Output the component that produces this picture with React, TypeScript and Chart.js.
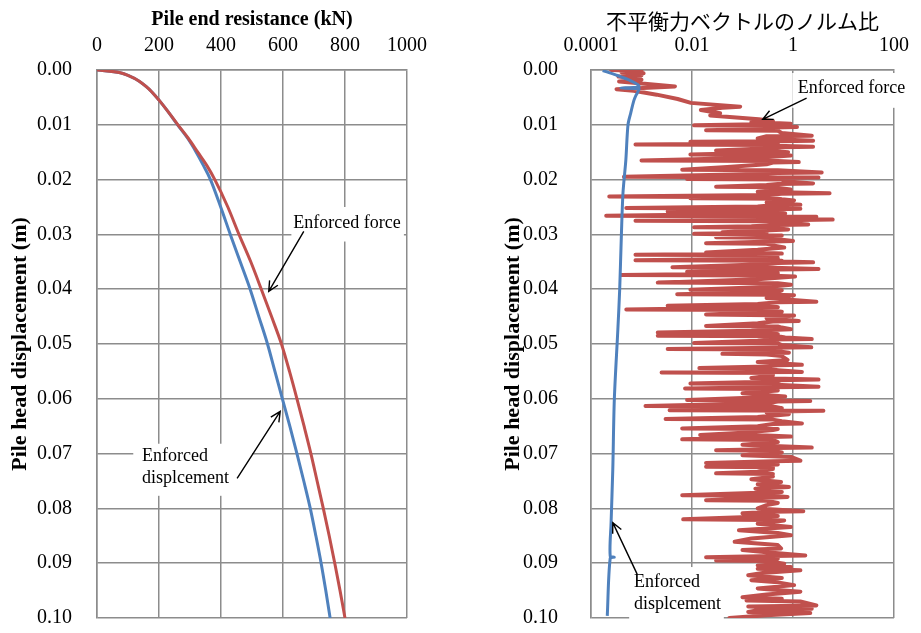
import { useEffect, useRef } from "react";
import { Chart, registerables } from "chart.js";

Chart.register(...registerables);

const SERIF = "'Liberation Serif', 'Times New Roman', serif";
const CJK = "'Noto Sans CJK JP', 'Noto Sans CJK SC', sans-serif";
const RED = "#C0504D";
const BLUE = "#4F81BD";
const GRID = "#8c8c8c";

// ---- Left panel: pile head displacement (m) vs pile end resistance (kN) ----
const headDisp = [
  0, 0.0005, 0.001, 0.002, 0.003, 0.004, 0.0055, 0.0075, 0.01, 0.0125, 0.015,
  0.0175, 0.02, 0.025, 0.03, 0.035, 0.04, 0.045, 0.05, 0.055, 0.06, 0.065, 0.07,
  0.075, 0.08, 0.085, 0.09, 0.095, 0.1,
];
const resistanceForceCtrl = [
  0, 75, 100, 135, 158, 177, 200, 228, 261, 295, 325, 355, 380, 422, 458, 496,
  530, 563, 595, 621, 645, 668, 690, 710, 730, 749, 767, 784, 800,
];
const resistanceDispCtrl = [
  0, 75, 100, 135, 158, 177, 200, 228, 260, 293, 320, 344, 366, 399, 430, 462,
  494, 522, 550, 574, 598, 622, 645, 667, 688, 706, 723, 738, 752,
];

const resistanceTicks = [0, 200, 400, 600, 800, 1000];
const dispTicks = [0, 0.01, 0.02, 0.03, 0.04, 0.05, 0.06, 0.07, 0.08, 0.09, 0.1];

// ---- Right panel: unbalanced force vector norm ratio (log scale) ----
const ratioTicks = [0.0001, 0.01, 1, 100];
const ratioTickLabels = ["0.0001", "0.01", "1", "100"];

// Enforced force run: [displacement (m), norm ratio]
const forceRun0to1cm: [number, number][] = [
  [0, 0.00025], [0.0002, 0.001], [0.0004, 0.0004], [0.0006, 0.0011], [0.0008, 0.0005],
  [0.001, 0.001], [0.0012, 0.00035], [0.0014, 0.0009], [0.0016, 0.0005], [0.0018, 0.001],
  [0.0021, 0.00036], [0.0024, 0.0009], [0.003, 0.0046], [0.0035, 0.00032], [0.0038, 0.0007],
  [0.0045, 0.002], [0.0053, 0.0052], [0.006, 0.0095], [0.0067, 0.09], [0.0069, 0.04],
  [0.0073, 0.015], [0.0079, 0.036], [0.0083, 0.023], [0.009, 0.21], [0.0093, 0.4],
  [0.0095, 0.15], [0.0098, 0.9],
];
const forceRun1to2cm: [number, number][] = [
  [0.0101, 0.011], [0.0102, 0.3], [0.0104, 1.2], [0.0105, 0.4], [0.0107, 0.5],
  [0.011, 0.019], [0.0111, 0.5], [0.0115, 0.6], [0.012, 2.35], [0.0121, 0.3],
  [0.0125, 0.2], [0.0129, 2.5], [0.013, 0.5], [0.0131, 0.0093], [0.0132, 0.3],
  [0.0134, 0.5], [0.0136, 0.00076], [0.0137, 0.4], [0.0138, 0.3], [0.014, 2.5],
  [0.0141, 0.6], [0.0144, 0.15], [0.0147, 0.03], [0.0148, 0.4], [0.015, 0.8],
  [0.0154, 0.0093], [0.0155, 0.3], [0.0156, 0.91], [0.016, 0.2], [0.0165, 0.001],
  [0.0166, 0.5], [0.0168, 1.3], [0.0169, 0.4], [0.0172, 0.3], [0.0177, 0.05],
  [0.0182, 0.0064], [0.0183, 0.5], [0.0187, 3.7], [0.0188, 0.5], [0.019, 0.2],
  [0.0195, 0.00045], [0.0196, 3.2], [0.0197, 0.4], [0.0199, 0.008], [0.02, 0.6],
];
const forceRun2to3cm: [number, number][] = [
  [0.0203, 0.7], [0.0207, 2.5], [0.0208, 0.5], [0.021, 0.3], [0.0213, 0.03],
  [0.0214, 0.4], [0.0218, 0.9], [0.0222, 0.2], [0.0225, 5.3], [0.0226, 0.6],
  [0.0228, 0.3], [0.0231, 0.00023], [0.0232, 0.2], [0.0234, 0.0093], [0.0235, 0.5],
  [0.0236, 0.6], [0.0238, 1.05], [0.0242, 0.3], [0.0246, 1.4], [0.0247, 0.4],
  [0.0249, 0.2], [0.0252, 0.0005], [0.0253, 1.4], [0.0254, 0.5], [0.0256, 0.3],
  [0.0258, 0.0033], [0.0259, 0.4], [0.0262, 0.7], [0.0266, 0.0002], [0.0268, 2.9],
  [0.0269, 0.6], [0.0271, 0.3], [0.0273, 6.1], [0.0274, 0.7], [0.0275, 0.00076],
  [0.0276, 0.3], [0.0278, 0.5], [0.0282, 2.0], [0.0283, 0.5], [0.0285, 0.15],
  [0.0287, 0.011], [0.0288, 0.4], [0.0291, 0.8], [0.0296, 0.04], [0.0297, 0.3],
  [0.0299, 0.011],
];
const forceRun3to4cm: [number, number][] = [
  [0.0302, 0.6], [0.0305, 0.03], [0.0306, 0.4], [0.0309, 0.5], [0.0312, 1.0],
  [0.0316, 0.019], [0.0317, 0.3], [0.032, 0.4], [0.0324, 0.67], [0.0328, 0.2],
  [0.0333, 0.019], [0.0334, 0.3], [0.0335, 0.6], [0.0337, 0.00076], [0.0338, 0.5],
  [0.034, 0.3], [0.0344, 0.5], [0.0347, 0.00076], [0.0348, 0.6], [0.0349, 0.4],
  [0.0351, 2.5], [0.0352, 0.5], [0.0355, 0.2], [0.036, 0.0041], [0.0361, 0.4],
  [0.0363, 3.2], [0.0364, 0.5], [0.0366, 0.2], [0.0368, 0.008], [0.0369, 0.4],
  [0.0371, 0.5], [0.0374, 0.0004], [0.0375, 0.3], [0.0377, 1.1], [0.0382, 0.2],
  [0.0388, 0.0021], [0.0389, 0.5], [0.0392, 0.91], [0.0396, 0.3], [0.0401, 0.0093],
  [0.0402, 0.6],
];
const forceRun4to5cm: [number, number][] = [
  [0.0405, 0.5], [0.0409, 0.0051], [0.041, 0.4], [0.0411, 1.05], [0.0416, 0.3],
  [0.0423, 2.9], [0.0424, 0.5], [0.0427, 0.2], [0.043, 0.0033], [0.0431, 0.4],
  [0.0433, 0.5], [0.0437, 0.0005], [0.0438, 0.3], [0.0441, 0.6], [0.0446, 0.019],
  [0.0448, 1.05], [0.0453, 0.3], [0.0458, 1.3], [0.0459, 0.4], [0.0462, 0.2],
  [0.0467, 0.019], [0.0468, 0.5], [0.047, 0.6], [0.0473, 0.91], [0.0476, 0.15],
  [0.0479, 0.0021], [0.048, 0.4], [0.0482, 0.5], [0.0485, 0.0021], [0.0486, 0.5],
  [0.0488, 0.7], [0.0491, 2.35], [0.0492, 0.4], [0.0494, 0.2], [0.0498, 0.011],
  [0.0499, 0.5],
];
const forceRun5to6cm: [number, number][] = [
  [0.0502, 0.6], [0.0506, 2.3], [0.0507, 0.4], [0.0509, 0.0033], [0.051, 0.5],
  [0.0513, 0.5], [0.0516, 0.83], [0.0518, 0.04], [0.0519, 0.3], [0.0522, 0.6],
  [0.0529, 0.78], [0.0533, 0.2], [0.0538, 1.5], [0.0539, 0.5], [0.0541, 0.3],
  [0.0544, 0.014], [0.0545, 0.4], [0.0548, 0.5], [0.0551, 1.5], [0.0552, 0.0025],
  [0.0553, 0.4], [0.0557, 0.4], [0.0562, 0.15], [0.0565, 3.2], [0.0566, 0.5],
  [0.0569, 0.3], [0.0572, 0.0093], [0.0573, 0.5], [0.0575, 0.6], [0.0578, 3.2],
  [0.0579, 0.4], [0.0581, 0.0073], [0.0582, 0.3], [0.0585, 0.5], [0.059, 0.1],
  [0.0596, 0.7], [0.0602, 0.008], [0.0603, 0.4],
];
const forceRun6to7cm: [number, number][] = [
  [0.0604, 2.2], [0.0605, 0.5], [0.0608, 0.3], [0.0613, 0.0012], [0.0614, 0.4],
  [0.0617, 0.6], [0.0621, 0.0036], [0.0622, 4.0], [0.0623, 0.5], [0.0625, 0.3],
  [0.0628, 0.83], [0.0633, 0.2], [0.0637, 0.003], [0.0638, 0.4], [0.0641, 0.6],
  [0.0645, 1.5], [0.0646, 0.4], [0.065, 0.2], [0.0654, 0.0064], [0.0655, 0.5],
  [0.0657, 0.4], [0.0662, 0.1], [0.0666, 0.0145], [0.0667, 0.3], [0.0669, 0.91],
  [0.0674, 0.0064], [0.0675, 0.4], [0.0679, 0.5], [0.0684, 0.1], [0.0689, 2.35],
  [0.069, 0.5], [0.0692, 0.3], [0.0694, 0.03], [0.0695, 0.4], [0.0698, 0.6],
];
const forceRun7to8cm: [number, number][] = [
  [0.0703, 0.1], [0.0706, 0.91], [0.0713, 1.4], [0.0714, 0.4], [0.0717, 0.019],
  [0.0718, 0.3], [0.072, 0.5], [0.0724, 0.019], [0.0725, 0.4], [0.0728, 0.4],
  [0.0733, 0.2], [0.0736, 0.03], [0.0737, 0.4], [0.0739, 0.3], [0.0742, 0.4],
  [0.0747, 0.15], [0.0752, 0.58], [0.0756, 0.2], [0.0761, 0.83], [0.0764, 0.18],
  [0.077, 0.6], [0.0776, 0.0064], [0.0777, 0.4], [0.0779, 0.78], [0.0785, 0.019],
  [0.0786, 0.3], [0.079, 0.5], [0.0794, 0.3],
];
const forceRun8to10cm: [number, number][] = [
  [0.08, 0.2], [0.0805, 1.6], [0.0806, 0.4], [0.0809, 0.1], [0.0814, 0.5],
  [0.082, 0.0067], [0.0821, 0.3], [0.0822, 0.67], [0.0828, 0.2], [0.0834, 0.91],
  [0.084, 0.085], [0.0845, 0.5], [0.0849, 0.91], [0.0855, 0.15], [0.0861, 0.07],
  [0.0867, 0.5], [0.0873, 0.58], [0.0876, 0.1], [0.088, 0.3], [0.0886, 1.75],
  [0.0887, 0.4], [0.0889, 0.019], [0.089, 0.3], [0.0892, 0.5], [0.0895, 0.03],
  [0.0896, 0.3], [0.0901, 0.67], [0.0904, 0.2], [0.0907, 0.91], [0.091, 0.2],
  [0.0913, 1.4], [0.0918, 0.25], [0.0922, 0.13], [0.0927, 0.6], [0.0931, 0.15],
  [0.0935, 0.5], [0.094, 1.05], [0.0946, 0.2], [0.0952, 1.4], [0.0957, 0.3],
  [0.0962, 0.1], [0.0965, 0.6], [0.0968, 0.12], [0.097, 1.4], [0.0977, 2.9],
  [0.0979, 0.13], [0.0983, 2.35], [0.0986, 0.2], [0.0989, 0.13], [0.0991, 2.2],
  [0.0995, 0.3], [0.1, 0.055],
];

// Enforced displacement run
const dispRunDisp = [
  0.0001, 0.0009, 0.0018, 0.0027, 0.0031, 0.0033, 0.0034, 0.0037, 0.0045, 0.0055,
  0.0079, 0.01, 0.0164, 0.0224, 0.03, 0.04, 0.0474, 0.06, 0.0729, 0.0826,
  0.0887, 0.0889, 0.0891, 0.0996,
];
const dispRunRatio = [
  0.00017, 0.00031, 0.00056, 0.00085, 0.00089, 0.00039, 0.00089, 0.00088, 0.00079, 0.00071,
  0.00061, 0.00054, 0.00049, 0.00043, 0.0004, 0.00037, 0.00034, 0.00029, 0.00027, 0.00025,
  0.00024, 0.00029, 0.00024, 0.00021,
];

type Pt = { x: number; y: number };
const zipXY = (xs: number[], ys: number[]): Pt[] => {
  const n = Math.min(xs.length, ys.length);
  const out: Pt[] = [];
  for (let i = 0; i < n; i++) out.push({ x: xs[i], y: ys[i] });
  return out;
};
const traceToXY = (...parts: [number, number][][]): Pt[] =>
  parts.flat().map(([d, r]) => ({ x: r, y: d }));

// Callout: white label box, text lines and an open-headed arrow, in data units
type Note = {
  lines: string[];
  at: [number, number];
  box: [number, number, number, number];
  from: [number, number];
  to: [number, number];
};

const makeNotes = (notes: Note[]) => ({
  id: "callouts",
  afterDraw(chart: any) {
    const { ctx, scales } = chart;
    const sx = scales.x;
    const sy = scales.y;
    ctx.save();
    for (const n of notes) {
      const bx0 = sx.getPixelForValue(n.box[0]);
      const by0 = sy.getPixelForValue(n.box[1]);
      const bx1 = sx.getPixelForValue(n.box[2]);
      const by1 = sy.getPixelForValue(n.box[3]);
      ctx.fillStyle = "#ffffff";
      ctx.fillRect(Math.min(bx0, bx1), Math.min(by0, by1), Math.abs(bx1 - bx0), Math.abs(by1 - by0));

      ctx.fillStyle = "#000000";
      ctx.font = `18px ${SERIF}`;
      ctx.textAlign = "left";
      ctx.textBaseline = "middle";
      const tx = sx.getPixelForValue(n.at[0]);
      const ty = sy.getPixelForValue(n.at[1]);
      n.lines.forEach((line, i) => ctx.fillText(line, tx, ty + i * 22));

      const x0 = sx.getPixelForValue(n.from[0]);
      const y0 = sy.getPixelForValue(n.from[1]);
      const x1 = sx.getPixelForValue(n.to[0]);
      const y1 = sy.getPixelForValue(n.to[1]);
      ctx.strokeStyle = "#000000";
      ctx.lineWidth = 1.4;
      ctx.beginPath();
      ctx.moveTo(x0, y0);
      ctx.lineTo(x1, y1);
      const ang = Math.atan2(y1 - y0, x1 - x0);
      const head = 11;
      const spread = 0.45;
      ctx.moveTo(x1 - head * Math.cos(ang - spread), y1 - head * Math.sin(ang - spread));
      ctx.lineTo(x1, y1);
      ctx.lineTo(x1 - head * Math.cos(ang + spread), y1 - head * Math.sin(ang + spread));
      ctx.stroke();
    }
    ctx.restore();
  },
});

const leftNotes: Note[] = [
  {
    lines: ["Enforced force"],
    at: [633, 0.0279],
    box: [627, 0.025, 990, 0.0313],
    from: [667, 0.02945],
    to: [554, 0.0404],
  },
  {
    lines: ["Enforced", "displcement"],
    at: [145, 0.0704],
    box: [117, 0.0682, 500, 0.0777],
    from: [452, 0.0745],
    to: [591, 0.0623],
  },
];

const rightNotes: Note[] = [
  {
    lines: ["Enforced force"],
    at: [1.245, 0.00328],
    box: [0.966, 0.00055, 186, 0.0069],
    from: [1.86, 0.00515],
    to: [0.251, 0.009],
  },
  {
    lines: ["Enforced", "displcement"],
    at: [0.00071, 0.0934],
    box: [0.00057, 0.0907, 0.0427, 0.1006],
    from: [0.00082, 0.092],
    to: [0.00027, 0.0826],
  },
];

const gridOpts = { color: GRID, lineWidth: 1.5, drawTicks: false };
const borderOpts = { color: GRID, width: 1.5 };

const dispAxis = (plotLeft: number, titlePad: number, tickPad: number) => ({
  type: "linear" as const,
  position: "left" as const,
  reverse: true,
  min: 0,
  max: 0.1,
  afterBuildTicks: (s: any) => {
    s.ticks = dispTicks.map((v) => ({ value: v }));
  },
  afterFit: (s: any) => {
    s.width = plotLeft;
    s.paddingTop = 0;
    s.paddingBottom = 0;
  },
  grid: gridOpts,
  border: borderOpts,
  ticks: {
    padding: tickPad,
    color: "#000",
    font: { family: SERIF, size: 20 },
    callback: (v: any) => Number(v).toFixed(2),
  },
  title: {
    display: true,
    text: "Pile head displacement (m)",
    color: "#000",
    font: { family: SERIF, size: 22, weight: "bold" as const },
    padding: { top: titlePad, bottom: 0 },
  },
});

export default function App() {
  const leftRef = useRef<HTMLCanvasElement>(null);
  const rightRef = useRef<HTMLCanvasElement>(null);

  useEffect(() => {
    if (!leftRef.current || !rightRef.current) return;

    const left = new Chart(leftRef.current, {
      type: "scatter",
      data: {
        datasets: [
          {
            label: "Enforced force",
            data: zipXY(resistanceForceCtrl, headDisp),
            showLine: true,
            borderColor: RED,
            backgroundColor: RED,
            borderWidth: 3,
            pointRadius: 0,
            cubicInterpolationMode: "monotone",
          },
          {
            label: "Enforced displcement",
            data: zipXY(resistanceDispCtrl, headDisp),
            showLine: true,
            borderColor: BLUE,
            backgroundColor: BLUE,
            borderWidth: 3,
            pointRadius: 0,
            cubicInterpolationMode: "monotone",
          },
        ],
      },
      options: {
        responsive: false,
        animation: false,
        layout: { padding: { left: 0, right: 53, top: 0, bottom: 15 } },
        plugins: { legend: { display: false }, tooltip: { enabled: false } },
        scales: {
          x: {
            type: "linear",
            position: "top",
            min: 0,
            max: 1000,
            afterBuildTicks: (s: any) => {
              s.ticks = resistanceTicks.map((v) => ({ value: v }));
            },
            afterFit: (s: any) => {
              s.height = 70;
            },
            grid: gridOpts,
            border: borderOpts,
            ticks: {
              padding: 12,
              color: "#000",
              font: { family: SERIF, size: 20 },
              callback: (v: any) => String(v),
            },
            title: {
              display: true,
              text: "Pile end resistance (kN)",
              color: "#000",
              font: { family: SERIF, size: 20, weight: "bold" },
              padding: { top: 8, bottom: 0 },
            },
          },
          y: dispAxis(97, 7, 25),
        },
      },
      plugins: [makeNotes(leftNotes)],
    });

    const right = new Chart(rightRef.current, {
      type: "scatter",
      data: {
        datasets: [
          {
            label: "Enforced displcement",
            data: zipXY(dispRunRatio, dispRunDisp),
            showLine: true,
            borderColor: BLUE,
            backgroundColor: BLUE,
            borderWidth: 3,
            pointRadius: 0,
            tension: 0.3,
            borderJoinStyle: "round",
          },
          {
            label: "Enforced force",
            data: traceToXY(
              forceRun0to1cm,
              forceRun1to2cm,
              forceRun2to3cm,
              forceRun3to4cm,
              forceRun4to5cm,
              forceRun5to6cm,
              forceRun6to7cm,
              forceRun7to8cm,
              forceRun8to10cm
            ),
            showLine: true,
            borderColor: RED,
            backgroundColor: RED,
            borderWidth: 4,
            pointRadius: 0,
            tension: 0,
            borderJoinStyle: "round",
            borderCapStyle: "round",
          },
        ],
      },
      options: {
        responsive: false,
        animation: false,
        layout: { padding: { left: 0, right: 19, top: 0, bottom: 15 } },
        plugins: { legend: { display: false }, tooltip: { enabled: false } },
        scales: {
          x: {
            type: "logarithmic",
            position: "top",
            min: 0.0001,
            max: 100,
            afterBuildTicks: (s: any) => {
              s.ticks = ratioTicks.map((v) => ({ value: v }));
            },
            afterFit: (s: any) => {
              s.height = 70;
            },
            grid: gridOpts,
            border: borderOpts,
            ticks: {
              padding: 12,
              color: "#000",
              font: { family: SERIF, size: 20 },
              callback: (_v: any, i: number) => ratioTickLabels[i],
            },
            title: {
              display: true,
              text: "不平衡力ベクトルのノルム比",
              color: "#000",
              font: { family: CJK, size: 21, weight: "normal" },
              padding: { top: 8, bottom: 0 },
            },
          },
          y: dispAxis(131, 40, 33),
        },
      },
      plugins: [makeNotes(rightNotes)],
    });

    return () => {
      left.destroy();
      right.destroy();
    };
  }, []);

  return (
    <div
      style={{
        position: "absolute",
        left: 0,
        top: 0,
        width: 921,
        height: 633,
        background: "#ffffff",
        overflow: "hidden",
      }}
    >
      <canvas
        ref={leftRef}
        width={460}
        height={633}
        style={{ position: "absolute", left: 0, top: 0, width: 460, height: 633 }}
      />
      <canvas
        ref={rightRef}
        width={461}
        height={633}
        style={{ position: "absolute", left: 460, top: 0, width: 461, height: 633 }}
      />
    </div>
  );
}
